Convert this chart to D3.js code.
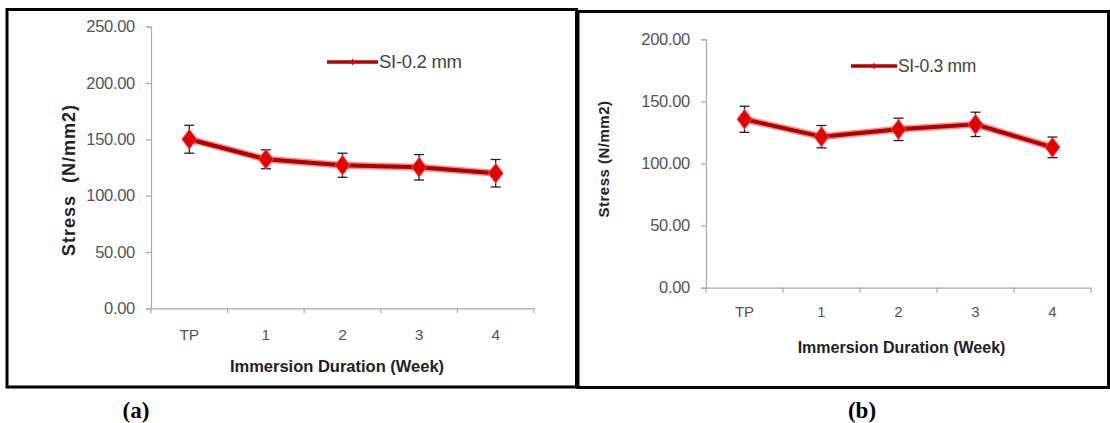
<!DOCTYPE html>
<html>
<head>
<meta charset="utf-8">
<script src="https://cdn.jsdelivr.net/npm/d3@7"></script>
<style>
  html, body { margin: 0; padding: 0; background: #fff; }
  svg { display: block; }
</style>
</head>
<body>
<svg id="chart" width="1110" height="423"></svg>
<script>
// ---- data ----
const categories = ["TP", "1", "2", "3", "4"];
const stressA = [150.1, 132.3, 127.0, 125.2, 119.9];
const errorA  = [12.4, 8.4, 10.7, 11.3, 12.2];
const stressB = [135.6, 121.6, 127.5, 131.5, 113.0];
const errorB  = [10.5, 9.0, 9.0, 9.8, 8.3];
const yTicksA = [0, 50, 100, 150, 200, 250];
const yTicksB = [0, 50, 100, 150, 200];
const seriesNameA = "SI-0.2 mm";
const seriesNameB = "SI-0.3 mm";
const xTitle = "Immersion Duration (Week)";
const yTitleA = "Stress  (N/mm2)";
const yTitleB = "Stress (N/mm2)";
const captions = ["(a)", "(b)"];

const svg = d3.select("#chart");
const FONT = "'Liberation Sans', Arial, sans-serif";

// panel borders
svg.append("rect").attr("x", 7).attr("y", 9.5).attr("width", 569.5).attr("height", 377.5)
  .attr("fill", "none").attr("stroke", "#000").attr("stroke-width", 3);
svg.append("rect").attr("x", 578).attr("y", 11.5).attr("width", 530.5).attr("height", 376)
  .attr("fill", "none").attr("stroke", "#000").attr("stroke-width", 3);

function drawPanel(cfg) {
  const g = svg.append("g");
  const x = d3.scaleBand().domain(categories).range([cfg.x0, cfg.x1]);
  const y = d3.scaleLinear().domain([0, cfg.yMax]).range([cfg.y0, cfg.y1]);

  // y axis
  const yAxis = d3.axisLeft(y).tickValues(cfg.yTicks).tickFormat(d3.format(".2f"))
    .tickSize(cfg.tick).tickPadding(cfg.tickPad);
  const ya = g.append("g").attr("transform", `translate(${cfg.x0},0)`).call(yAxis);
  ya.select(".domain").attr("stroke", "#aaa").attr("stroke-width", 1.2);
  ya.selectAll(".tick line").attr("stroke", "#aaa").attr("stroke-width", 1.2);
  ya.selectAll(".tick text").attr("fill", "#555").attr("font-family", FONT)
    .attr("font-size", cfg.yFont).attr("letter-spacing", cfg.yLs);

  // x axis
  const xa = g.append("g").attr("transform", `translate(0,${cfg.y0})`)
    .call(d3.axisBottom(x).tickSize(0).tickPadding(cfg.xPad));
  xa.select(".domain").attr("stroke", "#aaa").attr("stroke-width", 1.2);
  xa.selectAll(".tick text").attr("fill", "#555").attr("font-family", FONT)
    .attr("font-size", cfg.xFont);
  // category boundary ticks
  const bounds = categories.map(c => x(c)).concat([x(categories[categories.length - 1]) + x.bandwidth()]);
  g.selectAll("line.xb").data(bounds).enter().append("line")
    .attr("x1", d => d).attr("x2", d => d)
    .attr("y1", cfg.y0).attr("y2", cfg.y0 + 5)
    .attr("stroke", "#aaa").attr("stroke-width", 1.2);

  // titles
  g.append("text").attr("x", (cfg.x0 + cfg.x1) / 2 + cfg.xTitleDx).attr("y", cfg.xTitleY)
    .attr("text-anchor", "middle").attr("font-family", FONT).attr("font-weight", "bold")
    .attr("font-size", cfg.titleFont).attr("fill", "#222").text(xTitle);
  g.append("text").attr("transform", `translate(${cfg.yTitleX},${cfg.yTitleY}) rotate(-90)`)
    .attr("text-anchor", "middle").attr("font-family", FONT).attr("font-weight", "bold")
    .attr("font-size", cfg.yTitleFont).attr("letter-spacing", cfg.yTitleLs)
    .attr("fill", "#222").style("white-space", "pre").text(cfg.yTitle);

  const cx = c => x(c) + x.bandwidth() / 2;
  const pts = categories.map((c, i) => ({ c, v: cfg.values[i], e: cfg.errors[i] }));

  // line (glow + core)
  const line = d3.line().x(d => cx(d.c)).y(d => y(d.v));
  g.append("path").datum(pts).attr("d", line).attr("fill", "none")
    .attr("stroke", "#ff2a2a").attr("stroke-opacity", 0.55).attr("stroke-width", 7)
    .attr("stroke-linejoin", "round");
  g.append("path").datum(pts).attr("d", line).attr("fill", "none")
    .attr("stroke", "#aa0000").attr("stroke-width", 4).attr("stroke-linejoin", "round");

  // error bars
  const eb = g.selectAll("g.eb").data(pts).enter().append("g");
  eb.append("line").attr("x1", d => cx(d.c)).attr("x2", d => cx(d.c))
    .attr("y1", d => y(d.v + d.e)).attr("y2", d => y(d.v - d.e))
    .attr("stroke", "#222").attr("stroke-width", 1.3);
  eb.append("line").attr("x1", d => cx(d.c) - 5).attr("x2", d => cx(d.c) + 5)
    .attr("y1", d => y(d.v + d.e)).attr("y2", d => y(d.v + d.e))
    .attr("stroke", "#222").attr("stroke-width", 1.3);
  eb.append("line").attr("x1", d => cx(d.c) - 5).attr("x2", d => cx(d.c) + 5)
    .attr("y1", d => y(d.v - d.e)).attr("y2", d => y(d.v - d.e))
    .attr("stroke", "#222").attr("stroke-width", 1.3);

  // markers
  g.selectAll("path.mk").data(pts).enter().append("path")
    .attr("d", d3.symbol().type(d3.symbolDiamond).size(cfg.markSize))
    .attr("transform", d => `translate(${cx(d.c)},${y(d.v)}) scale(1.3,1)`)
    .attr("fill", "#e00000").attr("stroke", "#ff3a3a").attr("stroke-width", 0.8);

  // legend
  const lg = g.append("g");
  lg.append("line").attr("x1", cfg.legX).attr("x2", cfg.legX + cfg.legW)
    .attr("y1", cfg.legY).attr("y2", cfg.legY)
    .attr("stroke", "#b00000").attr("stroke-width", 3.5);
  lg.append("path").attr("d", d3.symbol().type(d3.symbolDiamond).size(14))
    .attr("transform", `translate(${cfg.legX + cfg.legW / 2},${cfg.legY})`)
    .attr("fill", "#e00000");
  lg.append("text").attr("x", cfg.legX + cfg.legW + 1).attr("y", cfg.legY)
    .attr("dy", "0.35em").attr("font-family", FONT).attr("font-size", cfg.legFont)
    .attr("fill", "#444").attr("letter-spacing", "-0.3px").text(cfg.name);
}

drawPanel({
  x0: 151, x1: 534, y0: 308.3, y1: 26.7, yMax: 250, yTicks: yTicksA,
  values: stressA, errors: errorA, name: seriesNameA, yTitle: yTitleA,
  tick: 5, tickPad: 11, yFont: 16.5, yLs: "-0.3px", xFont: 15.5, xPad: 21,
  xTitleDx: -5.5, xTitleY: 372, titleFont: 16.5,
  yTitleX: 75, yTitleY: 180, yTitleFont: 18, yTitleLs: "1px",
  markSize: 110, legX: 327, legW: 51, legY: 62, legFont: 18.5
});

drawPanel({
  x0: 706, x1: 1091, y0: 287.7, y1: 39.3, yMax: 200, yTicks: yTicksB,
  values: stressB, errors: errorB, name: seriesNameB, yTitle: yTitleB,
  tick: 5, tickPad: 11, yFont: 16.5, yLs: "-0.3px", xFont: 15, xPad: 19,
  xTitleDx: 3, xTitleY: 353, titleFont: 16,
  yTitleX: 609, yTitleY: 159, yTitleFont: 15, yTitleLs: "0.5px",
  markSize: 110, legX: 851, legW: 46, legY: 66, legFont: 17.5
});

// captions
svg.selectAll("text.cap").data(captions).enter().append("text")
  .attr("x", (d, i) => i === 0 ? 136 : 862).attr("y", 418)
  .attr("text-anchor", "middle").attr("font-family", "'Liberation Serif', 'Times New Roman', serif")
  .attr("font-weight", "bold").attr("font-size", 23).attr("fill", "#000").text(d => d);
</script>
</body>
</html>
